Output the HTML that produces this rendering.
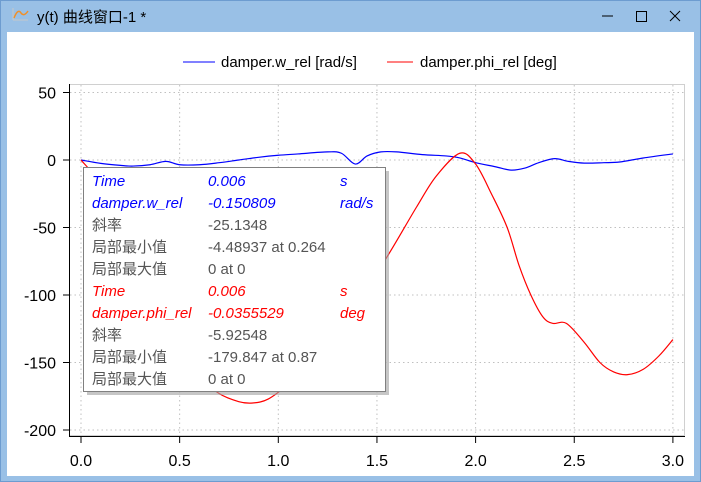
<!DOCTYPE html>
<html><head><meta charset="utf-8"><style>
body{margin:0;width:701px;height:482px;overflow:hidden;background:#99c0e6;font-family:"Liberation Sans","Noto Sans CJK SC",sans-serif}
</style></head><body>
<svg width="701" height="482" xmlns="http://www.w3.org/2000/svg" style="position:absolute;left:0;top:0" font-family="Liberation Sans, Noto Sans CJK SC, sans-serif">
<rect x="0" y="0" width="701" height="482" fill="#99c0e6"/>
<rect x="0.5" y="0.5" width="700" height="481" fill="none" stroke="#6d9cd0"/>
<g><path d="M13,20 L13,8 M13,20 L28,20" stroke="#c8c8c8" fill="none"/><path d="M14,18 Q18,8 21,13 Q24,17 28,11" stroke="#f0902a" stroke-width="1.5" fill="none"/></g>
<text x="37" y="22" font-size="15" fill="#000">y(t) 曲线窗口-1 *</text>
<g><line x1="602" y1="16" x2="613" y2="16" stroke="#000"/></g>
<g><rect x="636.5" y="11.5" width="10" height="10" fill="none" stroke="#000"/></g>
<g><path d="M670,11 L680,21 M680,11 L670,21" stroke="#000"/></g>
<rect x="7" y="32" width="687" height="444" fill="#fff"/>
<g>
<line x1="183" y1="62" x2="215" y2="62" stroke="#00f"/>
<text x="221" y="67" font-size="15">damper.w_rel [rad/s]</text>
<line x1="387" y1="62" x2="413" y2="62" stroke="#f00"/>
<text x="420" y="67" font-size="15">damper.phi_rel [deg]</text>
</g>
<g id="grid"></g><g id="axes"></g><g id="series"></g>
<g>
<rect x="87" y="171" width="302" height="224" fill="#a0a0a0" opacity="0.6"/>
<rect x="83.5" y="167.5" width="302" height="224" fill="#fff" stroke="#808080"/>
<g font-size="15" font-style="italic" fill="#00f">
<text x="92" y="186">Time</text><text x="208" y="186">0.006</text><text x="340" y="186">s</text>
<text x="92" y="208">damper.w_rel</text><text x="208" y="208">-0.150809</text><text x="340" y="208">rad/s</text>
</g>
<g font-size="15" fill="#555">
<text x="92" y="230">斜率</text><text x="208" y="230">-25.1348</text>
<text x="92" y="252">局部最小值</text><text x="208" y="252">-4.48937 at 0.264</text>
<text x="92" y="274">局部最大值</text><text x="208" y="274">0 at 0</text>
</g>
<g font-size="15" font-style="italic" fill="#f00">
<text x="92" y="296">Time</text><text x="208" y="296">0.006</text><text x="340" y="296">s</text>
<text x="92" y="318">damper.phi_rel</text><text x="208" y="318">-0.0355529</text><text x="340" y="318">deg</text>
</g>
<g font-size="15" fill="#555">
<text x="92" y="340">斜率</text><text x="208" y="340">-5.92548</text>
<text x="92" y="362">局部最小值</text><text x="208" y="362">-179.847 at 0.87</text>
<text x="92" y="384">局部最大值</text><text x="208" y="384">0 at 0</text>
</g>
</g>
</svg>
<script>
const xTicks=[0,0.5,1.0,1.5,2.0,2.5,3.0];
const yTicks=[50,0,-50,-100,-150,-200];
const tW=[0,0.1,0.2,0.264,0.35,0.43,0.5,0.6,0.7,0.8,0.9,1.0,1.1,1.25,1.32,1.39,1.45,1.52,1.6,1.73,1.85,1.92,2.0,2.1,2.18,2.25,2.32,2.40,2.47,2.55,2.65,2.73,2.85,3.0];
const wRel=[0,-2.5,-4,-4.5,-3.5,-1,-3.5,-3.5,-2,0,2,3.5,4.5,6,5,-3,3,6,6,4,3,1.5,-2,-5,-7.5,-6,-2,1,-1,-2.3,-2,-1.5,1.5,4.5];
const tP=[0,0.1,0.2,0.3,0.4,0.5,0.6,0.7,0.8,0.87,0.95,1.05,1.2,1.4,1.55,1.7,1.8,1.92,2.0,2.08,2.16,2.22,2.28,2.34,2.39,2.46,2.55,2.63,2.7,2.77,2.85,2.93,3.0];
const phiRel=[0,-18,-48,-82,-114,-140,-160,-173,-179,-180,-177,-166,-145,-105,-72,-35,-12,5,-3,-25,-50,-78,-100,-116,-121,-121,-135,-150,-157,-159,-155,-145,-133];
const X0=81,XS=197.3,Y0=160,YS=1.35;
const sx=t=>X0+t*XS, sy=v=>Y0-v*YS;
const NS="http://www.w3.org/2000/svg";
function mk(tag,attrs,parent){const e=document.createElementNS(NS,tag);for(const k in attrs)e.setAttribute(k,attrs[k]);parent.appendChild(e);return e;}
const grid=document.getElementById('grid'),axes=document.getElementById('axes'),series=document.getElementById('series');
mk('rect',{x:69.5,y:84.5,width:615,height:351,fill:'none',stroke:'#d0d0d0'},grid);
xTicks.forEach(t=>{
 const g=mk('line',{x1:sx(t),y1:85,x2:sx(t),y2:435,stroke:'#c0c0c0','stroke-dasharray':'1.5,3'},grid);
 
 
 const tk=mk('line',{x1:sx(t),y1:437,x2:sx(t),y2:443,stroke:'#000'},axes);
 
 
 const lb=mk('text',{x:sx(t),y:466,'font-size':16,'text-anchor':'middle'},axes);
 lb.textContent=t.toFixed(1);
 
 
});
yTicks.forEach(v=>{
 const g=mk('line',{x1:70,y1:sy(v),x2:684,y2:sy(v),stroke:'#c0c0c0','stroke-dasharray':'1.5,3'},grid);
 
 
 const tk=mk('line',{x1:63,y1:sy(v),x2:69,y2:sy(v),stroke:'#000'},axes);
 
 
 const lb=mk('text',{x:56,y:sy(v)+6,'font-size':16,'text-anchor':'end'},axes);
 lb.textContent=v;
 
 
});
const ya=mk('line',{x1:69.5,y1:84,x2:69.5,y2:437,stroke:'#000'},axes);


const xa=mk('line',{x1:69,y1:436.5,x2:685,y2:436.5,stroke:'#000'},axes);


function smooth(ts,vs){let p=[];for(let i=0;i<ts.length;i++)p.push([sx(ts[i]),sy(vs[i])]);
 let d='M'+p[0][0]+','+p[0][1];
 for(let i=0;i<p.length-1;i++){const p0=p[Math.max(i-1,0)],p1=p[i],p2=p[i+1],p3=p[Math.min(i+2,p.length-1)];
 const c1=[p1[0]+(p2[0]-p0[0])/6,p1[1]+(p2[1]-p0[1])/6],c2=[p2[0]-(p3[0]-p1[0])/6,p2[1]-(p3[1]-p1[1])/6];
 d+=` C${c1[0]},${c1[1]} ${c2[0]},${c2[1]} ${p2[0]},${p2[1]}`;}return d;}
const lw=mk('path',{d:smooth(tW,wRel),fill:'none',stroke:'#00f','stroke-width':1.2},series);


const lp=mk('path',{d:smooth(tP,phiRel),fill:'none',stroke:'#f00','stroke-width':1.2},series);


</script>
</body></html>
